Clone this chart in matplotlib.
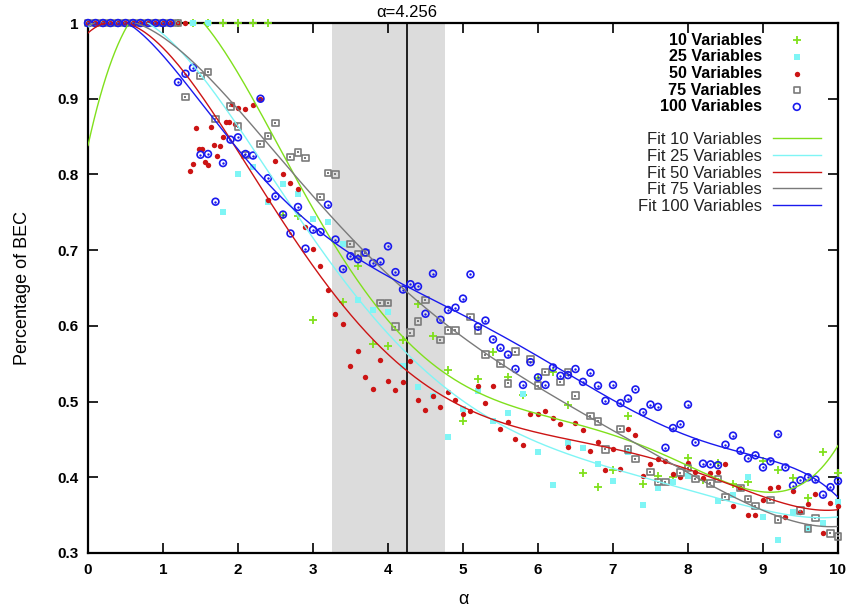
import numpy as np
import matplotlib
matplotlib.use('Agg')
import matplotlib.pyplot as plt

plt.rcParams['font.family'] = ['Liberation Sans', 'DejaVu Sans']

# ---- data: percentage of BEC vs alpha ----
x10 = [0.4, 0.6, 0.8, 1.0, 1.2, 1.4, 1.6, 1.8, 2.0, 2.2, 2.4,
       2.6, 2.8, 3.0, 3.4, 3.6, 3.8, 4.0, 4.2, 4.4, 4.6, 4.8, 5.0, 5.2, 5.4,
       5.6, 5.8, 6.0, 6.2, 6.4, 6.6, 6.8, 7.0, 7.2, 7.4, 7.6, 7.8, 8.0, 8.2,
       8.4, 8.6, 8.8, 9.0, 9.2, 9.4, 9.6, 9.8, 10.0]
y10 = [1, 1, 1, 1, 1, 1, 1, 1, 1, 1, 1,
       0.747, 0.745, 0.608, 0.632, 0.679, 0.576, 0.573, 0.581, 0.629, 0.587,
       0.542, 0.474, 0.530, 0.565, 0.533, 0.509, 0.531, 0.539, 0.496, 0.406,
       0.387, 0.409, 0.481, 0.391, 0.402, 0.400, 0.425, 0.397, 0.419, 0.391,
       0.394, 0.421, 0.409, 0.399, 0.373, 0.434, 0.405]

x25 = [0.0, 0.2, 0.4, 0.6, 0.8, 1.0, 1.2, 1.4, 1.6, 1.8, 2.0, 2.2, 2.4,
       2.6, 2.8, 3.0, 3.2, 3.4, 3.6, 3.8, 4.0, 4.2, 4.4, 4.6, 4.8, 5.0, 5.2,
       5.4, 5.6, 5.8, 6.0, 6.2, 6.4, 6.6, 6.8, 7.0, 7.2, 7.4, 7.6, 7.8, 8.0,
       8.4, 8.6, 8.8, 9.0, 9.2, 9.4, 9.6, 9.8, 10.0]
y25 = [1, 1, 1, 1, 1, 1, 1, 1, 1, 0.750, 0.800, 0.810, 0.764,
       0.787, 0.774, 0.741, 0.737, 0.708, 0.634, 0.621, 0.618, 0.547, 0.519,
       0.508, 0.453, 0.490, 0.514, 0.474, 0.485, 0.510, 0.433, 0.390, 0.445,
       0.439, 0.417, 0.395, 0.434, 0.364, 0.386, 0.394, 0.402, 0.369, 0.376,
       0.401, 0.347, 0.317, 0.354, 0.332, 0.340, 0.367]

x50 = [0.0, 0.1, 0.2, 0.3, 0.4, 0.5, 0.6, 0.7, 0.8, 0.9, 1.0, 1.1, 1.2, 1.3,
       1.36, 1.40, 1.44, 1.48, 1.52, 1.56, 1.60, 1.64, 1.68, 1.72, 1.76,
       1.80, 1.84, 1.88, 1.92, 1.96, 2.0, 2.1, 2.2, 2.3, 2.4, 2.5, 2.6, 2.7,
       2.8, 2.9, 3.0, 3.1, 3.2, 3.3, 3.4, 3.5, 3.6, 3.7, 3.8, 3.9, 4.0, 4.1,
       4.2, 4.3, 4.4, 4.5, 4.6, 4.7, 4.8, 4.9, 5.0, 5.1, 5.2, 5.3, 5.4, 5.5,
       5.6, 5.7, 5.8, 5.9, 6.0, 6.1, 6.2, 6.3, 6.4, 6.5, 6.6, 6.7, 6.8, 6.9,
       7.0, 7.1, 7.2, 7.3, 7.4, 7.5, 7.6, 7.7, 7.8, 7.9, 8.0, 8.1, 8.2, 8.3,
       8.4, 8.5, 8.6, 8.7, 8.8, 8.9, 9.0, 9.1, 9.2, 9.3, 9.4, 9.5, 9.6, 9.7,
       9.8, 9.9, 10.0]
y50 = [1, 1, 1, 1, 1, 1, 1, 1, 1, 1, 1, 1, 1, 1,
       0.805, 0.814, 0.862, 0.834, 0.834, 0.816, 0.812, 0.863, 0.839, 0.825,
       0.838, 0.849, 0.869, 0.869, 0.893, 0.867, 0.888, 0.886, 0.892, 0.900,
       0.766, 0.818, 0.800, 0.789, 0.781, 0.731, 0.701, 0.679, 0.648, 0.615,
       0.602, 0.547, 0.567, 0.532, 0.517, 0.555, 0.527, 0.515, 0.526, 0.553,
       0.502, 0.489, 0.508, 0.493, 0.512, 0.502, 0.484, 0.488, 0.521, 0.498,
       0.520, 0.464, 0.473, 0.450, 0.442, 0.483, 0.483, 0.487, 0.478, 0.471,
       0.440, 0.472, 0.463, 0.435, 0.446, 0.410, 0.437, 0.411, 0.464, 0.456,
       0.402, 0.417, 0.424, 0.422, 0.404, 0.401, 0.419, 0.407, 0.399, 0.406,
       0.407, 0.418, 0.362, 0.386, 0.350, 0.350, 0.370, 0.386, 0.387, 0.348,
       0.382, 0.354, 0.365, 0.378, 0.327, 0.366, 0.362]

x75 = [0.0, 0.1, 0.2, 0.3, 0.4, 0.5, 0.6, 0.7, 0.8, 0.9, 1.0, 1.1, 1.2,
       1.3, 1.5, 1.6, 1.7, 1.9, 2.0, 2.1, 2.3, 2.4, 2.5, 2.7, 2.8, 2.9, 3.1,
       3.2, 3.3, 3.5, 3.6, 3.7, 3.9, 4.0, 4.1, 4.3, 4.4, 4.5, 4.7, 4.8, 4.9,
       5.1, 5.2, 5.3, 5.5, 5.6, 5.7, 5.9, 6.0, 6.1, 6.3, 6.4, 6.5, 6.7, 6.8,
       6.9, 7.1, 7.2, 7.3, 7.5, 7.6, 7.7, 7.9, 8.0, 8.1, 8.3, 8.4, 8.5, 8.7,
       8.8, 8.9, 9.1, 9.2, 9.5, 9.6, 9.7, 9.9, 10.0]
y75 = [1, 1, 1, 1, 1, 1, 1, 1, 1, 1, 1, 1, 1,
       0.902, 0.930, 0.935, 0.873, 0.890, 0.863, 0.826, 0.840, 0.851, 0.868,
       0.823, 0.829, 0.822, 0.770, 0.802, 0.800, 0.708, 0.694, 0.696, 0.630,
       0.630, 0.599, 0.591, 0.606, 0.634, 0.581, 0.594, 0.594, 0.612, 0.594,
       0.562, 0.550, 0.524, 0.566, 0.556, 0.521, 0.539, 0.526, 0.539, 0.508,
       0.481, 0.474, 0.437, 0.464, 0.437, 0.424, 0.407, 0.394, 0.394, 0.406,
       0.412, 0.398, 0.392, 0.398, 0.374, 0.386, 0.371, 0.362, 0.370, 0.344,
       0.356, 0.332, 0.346, 0.326, 0.322]

x100 = [round(0.1 * i, 1) for i in range(101)]
y100 = [1, 1, 1, 1, 1, 1, 1, 1, 1, 1, 1, 1,
        0.922, 0.933, 0.941, 0.826, 0.827, 0.764, 0.815, 0.846, 0.849, 0.827,
        0.825, 0.900, 0.795, 0.771, 0.747, 0.722, 0.757, 0.702, 0.727, 0.724,
        0.760, 0.714, 0.675, 0.692, 0.688, 0.697, 0.683, 0.685, 0.705, 0.671,
        0.648, 0.655, 0.652, 0.616, 0.669, 0.608, 0.621, 0.624, 0.636, 0.668,
        0.599, 0.607, 0.582, 0.571, 0.562, 0.543, 0.522, 0.552, 0.532, 0.522,
        0.545, 0.534, 0.535, 0.543, 0.526, 0.538, 0.521, 0.501, 0.522, 0.498,
        0.504, 0.516, 0.486, 0.496, 0.493, 0.439, 0.465, 0.470, 0.496, 0.446,
        0.418, 0.417, 0.416, 0.443, 0.455, 0.435, 0.425, 0.429, 0.413, 0.421,
        0.457, 0.413, 0.389, 0.396, 0.400, 0.397, 0.377, 0.387, 0.395]

alpha_c = 4.256
band = (3.256, 4.756)

# name, x, y, colour, marker style, polynomial degree of the fit
series = [
    ('10 Variables', x10, y10, '#80e01c', 'plus', 5),
    ('25 Variables', x25, y25, '#7ff5f5', 'square', 5),
    ('50 Variables', x50, y50, '#cc1414', 'dot', 5),
    ('75 Variables', x75, y75, '#7a7a7a', 'open_square', 5),
    ('100 Variables', x100, y100, '#1a1aee', 'open_circle', 6),
]

fig = plt.figure(figsize=(8.51, 6.06), dpi=100)
ax = fig.add_axes([0.1034, 0.0875, 0.8813, 0.8745])

ax.axvspan(band[0], band[1], color='#dcdcdc', lw=0, zorder=0)
ax.axvline(alpha_c, color='black', lw=1.2, zorder=1)

handles = []
for name, xs, ys, col, style, deg in series:
    kw = dict(clip_on=False, zorder=3, label=name)
    if style == 'plus':
        h = ax.scatter(xs, ys, marker='+', s=30, color=col, lw=1.3, **kw)
    elif style == 'square':
        h = ax.scatter(xs, ys, marker='s', s=20, color=col, lw=0, **kw)
    elif style == 'dot':
        h = ax.scatter(xs, ys, marker='o', s=15, color=col, lw=0, **kw)
    elif style == 'open_square':
        h = ax.scatter(xs, ys, marker='s', s=22, facecolor='none', edgecolor=col, lw=1.2, **kw)
        ax.scatter(xs, ys, marker='s', s=2, color=col, lw=0, clip_on=False, zorder=3)
    else:
        h = ax.scatter(xs, ys, marker='o', s=24, facecolor='none', edgecolor=col, lw=1.2, **kw)
        ax.scatter(xs, ys, marker='o', s=3, color=col, lw=0, clip_on=False, zorder=3)
    handles.append(h)

blank, = ax.plot([], [], color='none', label=' ')
handles.append(blank)

xx = np.linspace(0, 10, 500)
for name, xs, ys, col, style, deg in series:
    c = np.polyfit(xs, ys, deg)
    ln, = ax.plot(xx, np.polyval(c, xx), color=col, lw=1.0, zorder=4,
                  label='Fit ' + name)
    handles.append(ln)

ax.set_xlim(0, 10)
ax.set_ylim(0.3, 1.0)
ax.set_xticks(range(11))
ax.set_yticks([0.3, 0.4, 0.5, 0.6, 0.7, 0.8, 0.9, 1.0])
ax.set_yticklabels(['0.3', '0.4', '0.5', '0.6', '0.7', '0.8', '0.9', '1'])
ax.tick_params(direction='in', top=True, right=True, length=7, width=1.2,
               labelsize=11, pad=7)
for lab in ax.get_xticklabels() + ax.get_yticklabels():
    lab.set_fontweight('bold')
for sp in ax.spines.values():
    sp.set_linewidth(1.6)

ax.set_xlabel('α', fontsize=13, labelpad=10)
ax.set_ylabel('Percentage of BEC', fontsize=13, labelpad=19)
ax.text(alpha_c, 1.004, 'α=4.256', ha='center', va='bottom', fontsize=12)

leg = ax.legend(handles=handles, loc='upper right', markerfirst=False, frameon=False,
                fontsize=12, handlelength=2.9, labelspacing=0.1, borderaxespad=0.62,
                bbox_to_anchor=(1.0, 1.014), handletextpad=0.65)
texts = leg.get_texts()
for t in texts[:5]:
    t.set_fontweight('bold')
    t.set_fontsize(11.6)
texts[5].set_fontsize(9)
for t in texts[6:]:
    t.set_color('#222222')

fig.savefig('out.png', dpi=100)
